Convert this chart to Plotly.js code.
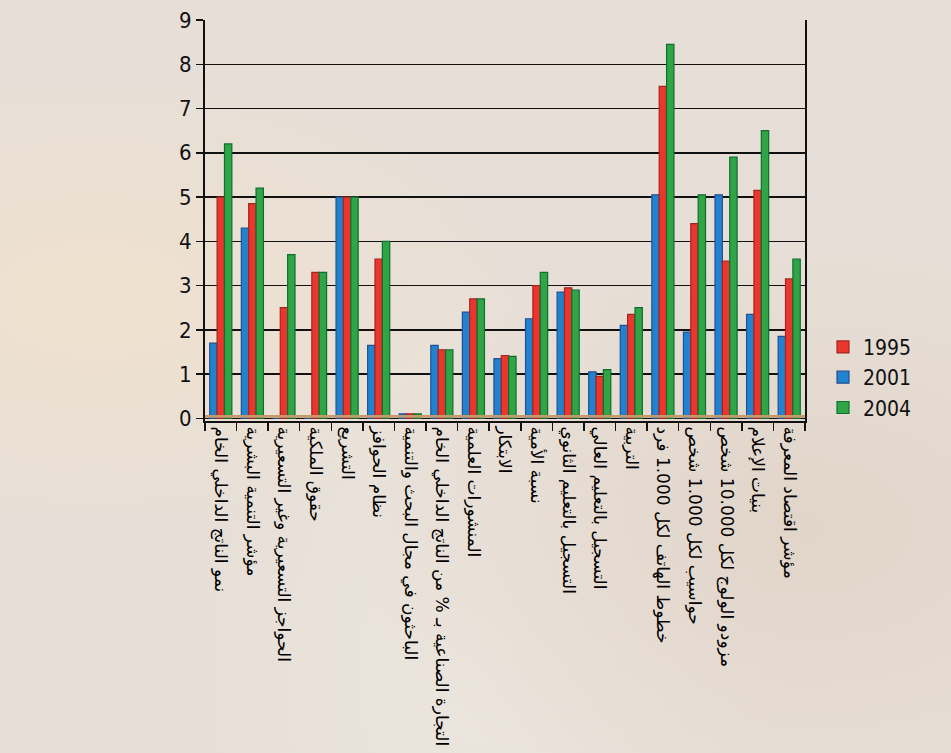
<!DOCTYPE html>
<html>
<head>
<meta charset="utf-8">
<script src="https://cdn.plot.ly/plotly-3.0.1.min.js"></script>
<style>
html,body{margin:0;padding:0;}
body{width:951px;height:753px;overflow:hidden;
background:
 radial-gradient(ellipse at 10% 40%, rgba(240,225,205,0.9) 0%, rgba(240,225,205,0) 35%),
 radial-gradient(ellipse at 85% 70%, rgba(225,212,200,0.9) 0%, rgba(225,212,200,0) 40%),
 radial-gradient(ellipse at 50% 90%, rgba(236,230,222,0.9) 0%, rgba(236,230,222,0) 45%),
 #e7dfd7;}
#chart{width:951px;height:753px;}
</style>
</head>
<body>
<div id="chart"></div>
<script>
const categories = [
  "نمو الناتج الداخلي الخام",
  "مؤشر التنمية البشرية",
  "الحواجز التسعيرية وغير التسعيرية",
  "حقوق الملكية",
  "التشريع",
  "نظام الحوافز",
  "الباحثون في مجال البحث والتنمية",
  "التجارة الصناعية بـ % من الناتج الداخلي الخام",
  "المنشورات العلمية",
  "الابتكار",
  "نسبة الأمية",
  "التسجيل بالتعليم الثانوي",
  "التسجيل بالتعليم العالي",
  "التربية",
  "خطوط الهاتف لكل 1.000 فرد",
  "حواسيب لكل 1.000 شخص",
  "مزودو الولوج لكل 10.000 شخص",
  "بنيات الإعلام",
  "مؤشر اقتصاد المعرفة"
];
const values2001 = [1.7, 4.3, 0, 0, 5.0, 1.65, 0.1, 1.65, 2.4, 1.35, 2.25, 2.85, 1.05, 2.1, 5.05, 1.95, 5.05, 2.35, 1.85];
const values1995 = [5.0, 4.85, 2.5, 3.3, 5.0, 3.6, 0.1, 1.55, 2.7, 1.42, 3.0, 2.95, 0.95, 2.35, 7.5, 4.4, 3.55, 5.15, 3.15];
const values2004 = [6.2, 5.2, 3.7, 3.3, 5.0, 4.0, 0.1, 1.55, 2.7, 1.4, 3.3, 2.9, 1.1, 2.5, 8.45, 5.05, 5.9, 6.5, 3.6];
const seriesNames = ["2001", "1995", "2004"];
const yTicks = [0,1,2,3,4,5,6,7,8,9];

const traces = [
  {type:'bar', name:seriesNames[0], x:categories, y:values2001, legendrank:2,
   marker:{color:'#2183cf', line:{color:'#23508f', width:1.2}}},
  {type:'bar', name:seriesNames[1], x:categories, y:values1995, legendrank:1,
   marker:{color:'#ea362c', line:{color:'#a5261f', width:1.2}}},
  {type:'bar', name:seriesNames[2], x:categories, y:values2004, legendrank:3,
   marker:{color:'#2fa545', line:{color:'#0f6e32', width:1.2}}}
];

const layout = {
  width:951, height:753,
  margin:{l:205, r:146, t:20, b:332},
  paper_bgcolor:'rgba(0,0,0,0)',
  plot_bgcolor:'rgba(0,0,0,0)',
  barmode:'group', bargap:0.3, bargroupgap:0,
  showlegend:true,
  legend:{x:1.03, y:0.235, xanchor:'left', yanchor:'top',
    font:{family:'Liberation Sans Narrow, DejaVu Sans Condensed, Liberation Sans', size:21, color:'#111'},
    bgcolor:'rgba(0,0,0,0)', tracegroupgap:0, itemwidth:30},
  xaxis:{type:'category', tickangle:90, showline:true, linecolor:'#111', linewidth:2,
    ticks:'outside', ticklen:8, tickcolor:'#111', tickwidth:1.5, tickson:'boundaries',
    showgrid:false, mirror:false,
    tickfont:{family:'DejaVu Sans, Noto Sans', size:17, color:'#000'}},
  yaxis:{range:[-0.06,9], tickvals:yTicks, showline:true, linecolor:'#111', linewidth:2, mirror:true,
    ticks:'outside', ticklen:7, tickcolor:'#111', tickwidth:1.5,
    showgrid:true, gridcolor:'#111', gridwidth:1.5, zeroline:false,
    tickfont:{family:'Liberation Sans Narrow, DejaVu Sans Condensed, Liberation Sans', size:22, color:'#111'}},
  shapes:[{type:'rect', xref:'paper', yref:'y', x0:0, x1:1, y0:0.015, y1:0.075,
    fillcolor:'#c49a6c', line:{width:0}, layer:'above'}]
};

Plotly.newPlot('chart', traces, layout, {displayModeBar:false, staticPlot:true});
</script>
</body>
</html>
